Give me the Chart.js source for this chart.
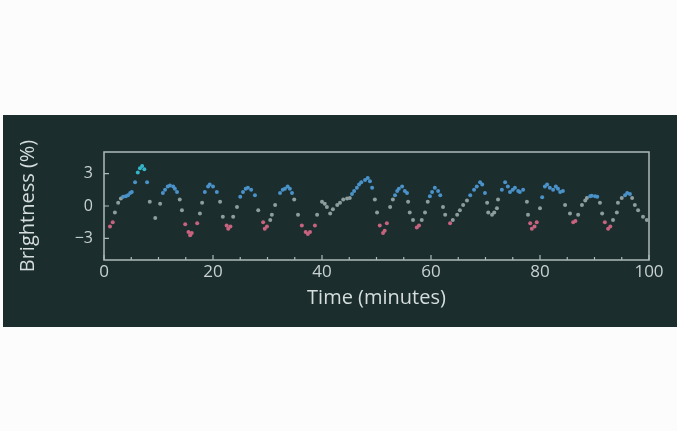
<!DOCTYPE html>
<html>
<head>
<meta charset="utf-8">
<script src="https://cdn.jsdelivr.net/npm/chart.js@4.4.1/dist/chart.umd.min.js"></script>
<style>
  body { margin: 0; background: #fcfcfc; width: 677px; height: 431px; overflow: hidden; }
  #band { position: absolute; left: 3px; top: 115px; width: 674px; height: 212px; background: #1b2d2d; }
  canvas { display: block; }
</style>
</head>
<body>
<div id="band"><canvas id="light-curve" width="674" height="212"></canvas></div>
<script>
// time of each sample (minutes) and brightness change (%)
var times = [1.1,1.6,2.0,2.6,3.1,3.5,4.0,4.4,4.8,5.1,5.7,6.2,6.6,7.0,7.4,7.9,8.4,9.4,10.3,10.8,
  11.2,11.7,12.1,12.7,13.0,13.4,13.9,14.3,14.9,15.5,15.8,16.1,17.1,17.6,18.0,18.5,19.1,19.4,20.0,20.7,
  21.3,21.8,22.5,22.8,23.2,23.7,24.4,25.0,25.5,26.0,26.4,27.0,27.7,28.3,29.2,29.5,29.9,30.5,30.8,31.4,
  32.3,32.8,33.2,33.7,34.1,34.5,34.9,35.6,36.3,37.0,37.4,37.8,38.7,39.1,40.0,40.5,40.9,41.5,42.0,42.8,
  43.3,43.9,44.6,45.1,45.5,45.9,46.4,46.8,47.2,47.9,48.4,48.8,49.2,49.7,50.1,50.6,51.2,51.5,51.9,52.5,
  53.0,53.4,53.8,54.1,54.7,55.2,55.6,55.8,56.1,56.7,57.4,57.8,58.3,58.9,59.4,59.8,60.2,60.7,61.3,61.7,
  62.2,62.6,63.5,64.0,64.8,65.3,65.9,66.6,67.2,67.9,68.4,69.0,69.4,69.9,70.3,70.5,71.2,71.6,72.1,72.3,
  73.0,73.6,74.1,74.5,75.0,75.4,76.0,76.3,76.9,77.6,77.8,78.2,78.5,79.0,79.4,80.0,80.4,80.9,81.3,81.8,
  82.4,82.9,83.3,83.7,84.2,84.6,85.5,86.1,86.5,87.0,87.7,88.3,88.6,89.2,89.5,90.1,90.5,91.0,91.4,91.9,
  92.5,92.9,93.4,94.1,94.3,95.0,95.6,96.0,96.5,96.9,97.4,98.0,98.9,99.6];
var brightness = [-1.9,-1.5,-0.6,0.3,0.7,0.85,0.9,1.0,1.2,1.3,2.2,3.1,3.5,3.7,3.4,2.2,0.4,-1.1,0.2,1.2,
  1.5,1.8,1.9,1.8,1.6,1.3,0.6,-0.4,-1.7,-2.4,-2.7,-2.5,-1.6,-0.7,0.3,1.3,1.8,2.0,1.8,1.3,
  0.4,-1.0,-1.8,-2.1,-1.9,-1.0,-0.1,0.85,1.3,1.6,1.7,1.5,1.0,-0.4,-1.5,-2.1,-1.9,-1.3,-0.8,0.1,
  1.2,1.5,1.6,1.8,1.6,1.2,0.6,-0.8,-1.8,-2.4,-2.6,-2.4,-1.8,-0.8,0.4,0.2,-0.1,-0.7,-0.3,0.1,
  0.3,0.6,0.7,0.75,1.1,1.4,1.7,2.0,2.2,2.4,2.6,2.3,1.7,0.6,-0.6,-1.8,-2.5,-2.3,-1.6,-0.1,
  0.6,1.0,1.4,1.6,1.8,1.4,1.2,0.4,-0.6,-1.3,-2.0,-1.8,-1.3,-0.6,0.4,0.9,1.3,1.7,1.4,1.0,
  -0.1,-0.8,-1.6,-1.3,-0.8,-0.4,0.1,0.5,1.0,1.5,1.8,2.2,2.0,1.2,0.3,-0.6,-0.8,-0.6,-0.2,0.6,
  1.5,2.2,1.8,1.3,1.5,1.7,1.4,1.3,1.5,0.4,-0.8,-1.6,-2.1,-1.9,-1.5,-0.2,0.8,1.8,2.0,1.7,
  1.5,1.8,1.6,1.3,1.4,0.1,-0.7,-1.5,-1.4,-0.8,0.1,0.5,0.75,0.9,0.95,0.9,0.85,0.3,-0.7,-1.5,
  -2.1,-1.9,-1.3,-0.6,0.3,0.75,1.0,1.2,1.1,0.75,0.1,-0.4,-1.0,-1.3];
var xTicks = [0, 20, 40, 60, 80, 100];
var yTicks = [-3, 0, 3];

var points = [];
for (var i = 0; i < times.length; i++) {
  points.push({x: times[i], y: brightness[i]});
}

function dotColor(ctx) {
  var v = ctx.raw ? ctx.raw.y : 0;
  if (v >= 3) return '#36b4c8';
  if (v >= 0.8) return '#4a92c9';
  if (v <= -1.4) return '#c8637f';
  return '#8e9e9e';
}

var frameColor = '#aebaba';
var framePlugin = {
  id: 'frame',
  beforeDatasetsDraw: function(chart) {
    var c = chart.ctx, a = chart.chartArea;
    var xs = chart.scales.x, ys = chart.scales.y;
    c.save();
    c.strokeStyle = frameColor;
    c.lineWidth = 1.5;
    c.strokeRect(a.left, a.top, a.right - a.left, a.bottom - a.top);
    c.lineWidth = 1.2;
    c.beginPath();
    for (var v = 0; v <= 100; v += 5) {
      var px = xs.getPixelForValue(v);
      var len = (v % 20 === 0) ? 5 : 3;
      c.moveTo(px, a.bottom);
      c.lineTo(px, a.bottom - len);
    }
    yTicks.forEach(function(t) {
      var py = ys.getPixelForValue(t);
      c.moveTo(a.left, py);
      c.lineTo(a.left + 5, py);
    });
    c.stroke();
    c.restore();
  }
};

var chart = new Chart(document.getElementById('light-curve'), {
  type: 'scatter',
  data: {
    datasets: [{
      data: points,
      pointRadius: 2,
      pointBorderWidth: 0,
      pointBackgroundColor: dotColor,
      showLine: false
    }]
  },
  options: {
    responsive: false,
    animation: false,
    layout: { padding: { top: 37, right: 28, left: 0, bottom: 0 } },
    plugins: { legend: { display: false }, tooltip: { enabled: false } },
    scales: {
      x: {
        type: 'linear', min: 0, max: 100,
        afterBuildTicks: function(s) { s.ticks = xTicks.map(function(v) { return {value: v}; }); },
        afterFit: function(s) { s.height = 67; },
        grid: { display: false, drawTicks: false },
        border: { display: false },
        ticks: { color: '#c9d2d2', padding: 2, maxRotation: 0, font: { family: 'Open Sans', size: 17 } },
        title: { display: true, text: 'Time (minutes)', color: '#d5dddd', padding: { top: 0, bottom: 17 },
          font: { family: 'Open Sans', size: 20 } }
      },
      y: {
        type: 'linear', min: -5, max: 5,
        afterBuildTicks: function(s) { s.ticks = yTicks.map(function(v) { return {value: v}; }); },
        afterFit: function(s) { s.width = 101; },
        grid: { display: false, drawTicks: false },
        border: { display: false },
        ticks: { color: '#c9d2d2', padding: 11, font: { family: 'Open Sans', size: 16 },
          callback: function(v) { return v < 0 ? '\u2212' + Math.abs(v) : String(v); } },
        title: { display: true, text: 'Brightness (%)', color: '#d5dddd', padding: { top: 13, bottom: 0 },
          font: { family: 'Open Sans', size: 20 } }
      }
    }
  },
  plugins: [framePlugin]
});
</script>
</body>
</html>
